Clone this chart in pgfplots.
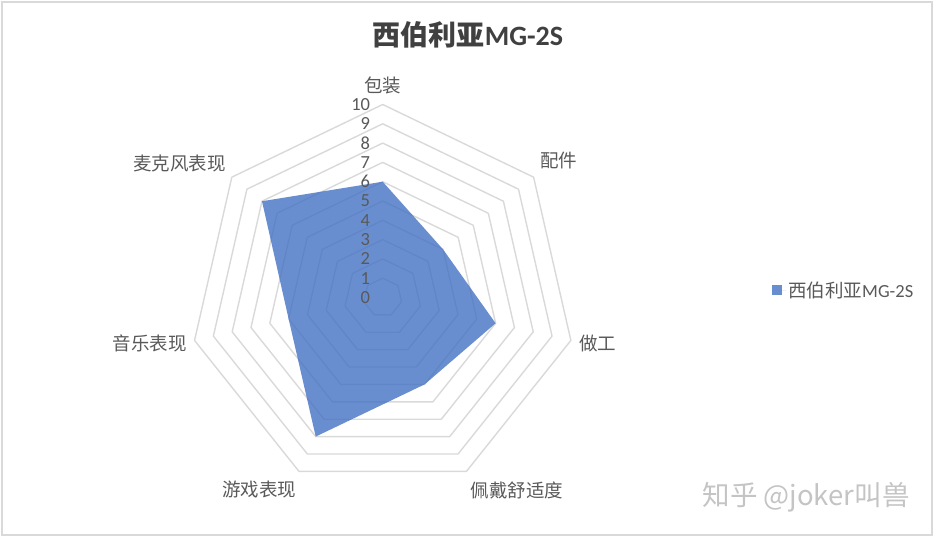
\documentclass[border=0pt]{standalone}
\usepackage{fontspec}
\setmainfont{Carlito}
\newfontfamily\cjk{Noto Sans CJK SC}
\usepackage{pgfplots}
\pgfplotsset{compat=1.18}
\definecolor{series}{RGB}{68,114,196}
\definecolor{ring}{RGB}{217,217,217}
\definecolor{labelgray}{RGB}{89,89,89}
\definecolor{titlegray}{RGB}{64,64,64}
\definecolor{wmgray}{RGB}{196,196,196}

\begin{document}
\begin{tikzpicture}[x=1bp,y=1bp]
\useasboundingbox (0,0) rectangle (936,540);
\draw[ring, line width=1.5bp] (2,5) rectangle (932,538);

\begin{axis}[
  at={(382.7bp,242.5bp)}, anchor=center,
  x=19.3bp, y=19.3bp,
  xmin=-12, xmax=12, ymin=-12, ymax=12,
  hide axis, clip=false,
  legend style={draw=none, fill=none, inner sep=0pt,
    at={(1.3405,0.516)}, anchor=west,
    font=\fontsize{18.5bp}{20bp}\selectfont, text=labelgray},
  legend cell align=left,
]
% rings 1..10
\pgfplotsinvokeforeach{1,...,10}{
  \addplot[forget plot, draw=ring, line width=1.4bp, line join=round, data cs=polar]
    coordinates {(90,#1) (38.571,#1) (-12.857,#1) (-64.286,#1) (-115.714,#1) (-167.143,#1) (141.429,#1) (90,#1)};
}
% series: 包装, 配件, 做工, 佩戴舒适度, 游戏表现, 音乐表现, 麦克风表现
\addplot[draw=none, fill=series, fill opacity=0.8, data cs=polar,
  legend image code/.code={\fill[series, fill opacity=0.8] (0bp,-5bp) rectangle (10bp,5bp); \path (0bp,0bp) -- (14bp,0bp);}]
  coordinates {(90,6) (38.571,4) (-12.857,6) (-64.286,5) (-115.714,8) (-167.143,5) (141.429,8) (90,6)};
\addlegendentry{{\cjk 西伯利亚}MG-2S}

\pgfplotsinvokeforeach{0,...,10}{
  \node[anchor=east, inner sep=1bp, xshift=-11.5bp, text=labelgray,
    font=\fontsize{18.5bp}{19bp}\selectfont] at (axis cs:0,#1) {#1};
}
\end{axis}

\node[text=titlegray, font=\fontsize{28bp}{30bp}\selectfont\bfseries] at (468,505) {{\cjk 西伯利亚}MG-2S};

\begin{scope}[every node/.style={text=labelgray, font=\cjk\fontsize{18.5bp}{20bp}\selectfont}]
\node at (382.5,455) {包装};
\node at (558.5,379) {配件};
\node at (597.5,197) {做工};
\node at (517,50) {佩戴舒适度};
\node at (259,50) {游戏表现};
\node at (149.5,197) {音乐表现};
\node at (179.5,377) {麦克风表现};
\end{scope}

\node[anchor=east, text=wmgray, font=\cjk\fontsize{27.5bp}{29bp}\selectfont] at (913,43) {知乎 @joker叫兽};
\end{tikzpicture}
\end{document}
